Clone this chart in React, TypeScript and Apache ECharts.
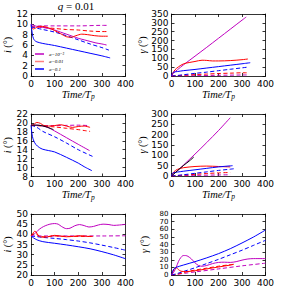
import React, { useEffect, useRef } from "react";
import * as echarts from "echarts";

// ---------- data ----------
const timeTicks = [0, 100, 200, 300, 400];
const legendNames = ["a=10⁻³", "a=0.01", "a=0.1"];

// Row 1 left: inclination i (deg)
const r1iMagSolid = [[0,10],[25,9.6],[50,9.4],[75,9.2],[100,8.9],[125,8.5],[150,8.1],[175,7.7],[200,7.3],[225,7.0],[250,6.7],[275,6.4],[300,6.2],[320,6.0]];
const r1iMagDash = [[0,9.6],[50,9.7],[100,9.7],[200,9.7],[300,9.8],[320,9.8]];
const r1iRedSolid = [[0,9.5],[10,9.1],[20,9.3],[35,9.6],[50,9.6],[75,9.3],[100,8.8],[125,8.2],[150,7.6],[170,7.5],[190,7.8],[215,8.1],[240,8.0],[270,7.8],[300,7.7],[325,7.7]];
const r1iRedDash = [[0,9.5],[50,9.4],[100,9.2],[150,9.0],[200,8.9],[250,8.7],[300,8.6],[325,8.6]];
const r1iBlueSolid = [[0,10],[3,9],[6,8],[10,7.3],[15,6.9],[25,6.6],[50,6.3],[75,6.1],[100,5.9],[150,5.4],[200,4.9],[250,4.4],[300,3.9],[335,3.5]];
const r1iBlueDash = [[0,9.5],[50,9.0],[100,8.5],[150,7.8],[200,7.0],[250,6.2],[300,5.5],[330,5.0]];

// Row 1 right: gamma (deg)
const r1gMagSolid = [[0,0],[10,18],[25,35],[50,62],[100,112],[150,162],[200,213],[250,264],[300,315],[318,333]];
const r1gMagDash = [[0,0],[100,2],[200,4],[320,6]];
const r1gRedSolid = [[0,0],[5,15],[15,35],[30,52],[50,68],[75,76],[100,82],[130,89],[150,88],[175,85],[200,85],[250,87],[300,92],[325,96]];
const r1gRedDash = [[0,0],[50,4],[100,8],[150,11],[200,14],[250,16],[300,18],[320,18]];
const r1gBlueSolid = [[0,0],[3,15],[10,22],[25,25],[50,30],[100,37],[150,45],[200,53],[250,61],[300,69],[335,75]];
const r1gBlueDash = [[0,0],[25,3],[50,7],[100,15],[150,22],[200,30],[250,38],[300,46],[330,51]];

// Row 2 left
const r2iBlack = [[0,19.5],[30,19.5],[60,19.2],[95,18.5]];
const r2iMagSolid = [[0,19.5],[25,19.5],[50,19.3],[75,18.9],[100,18.2],[150,16.7],[200,15.2],[248,13.8]];
const r2iMagDash = [[0,19.4],[100,19.4],[200,19.5],[248,19.4]];
const r2iRedSolid = [[0,19.3],[10,19.6],[25,20.1],[40,19.9],[55,19.4],[75,19.3],[100,19.4],[125,19.6],[150,19.3],[175,19.0],[200,19.2],[225,19.3],[250,19.0]];
const r2iRedDash = [[0,19.5],[50,19.3],[100,19.1],[150,18.8],[200,18.5],[225,18.3],[250,18.1]];
const r2iBlueSolid = [[0,19.5],[3,18],[6,17],[10,16.2],[20,15.2],[35,14.5],[50,14.1],[75,13.8],[100,13.5],[150,12.3],[200,11.0],[225,10.2],[258,9.3]];
const r2iBlueDash = [[0,19.5],[25,19.0],[50,18.1],[100,16.9],[150,15.5],[200,14.0],[265,12.4]];

// Row 2 right
const r2gBlack = [[0,0],[25,25],[50,50],[75,72],[95,92]];
const r2gMagSolid = [[0,0],[50,52],[100,106],[150,162],[200,220],[250,282]];
const r2gMagDash = [[0,0],[100,3],[200,5],[250,6]];
const r2gRedSolid = [[0,0],[10,20],[25,32],[50,40],[100,46],[150,48],[200,46],[250,44]];
const r2gRedDash = [[0,0],[50,4],[100,8],[150,12],[200,15],[250,17]];
const r2gBlueSolid = [[0,0],[3,12],[10,16],[25,19],[50,23],[100,30],[150,37],[200,44],[250,49],[260,50]];
const r2gBlueDash = [[0,0],[50,6],[100,13],[150,20],[200,27],[250,33],[265,35]];

// Row 3 left
const r3iMagSolid = [[0,39.2],[10,39.8],[20,40.8],[30,42],[45,43.3],[60,44.2],[80,45.0],[100,45.3],[115,45.0],[130,43.8],[150,42.8],[165,43.0],[185,44.2],[205,44.8],[225,44.3],[245,43.6],[265,43.9],[285,44.6],[305,45.0],[330,44.8],[350,44.4],[375,44.6],[400,44.9]];
const r3iMagDash = [[0,39.2],[100,39.2],[200,39.2],[300,39.2],[400,39.3]];
const r3iRedSolid = [[0,39.2],[8,40.5],[16,41.5],[22,41.2],[30,39.6],[40,38.8],[60,38.6],[80,39.0],[100,39.5],[120,39.2],[150,38.8],[180,39.0],[210,39.3],[240,39.0],[262,39.0]];
const r3iRedDash = [[0,39.2],[10,40.2],[20,40.6],[30,39.3],[45,38.8],[70,38.9],[100,39.2],[150,39.0],[200,39.0],[262,38.9]];
const r3iBlueSolid = [[0,39.2],[10,38.3],[25,37.3],[50,36.4],[100,35.6],[150,34.8],[200,33.9],[250,32.9],[300,31.5],[350,29.9],[400,28.0]];
const r3iBlueDash = [[0,39.2],[50,38.5],[100,38.0],[150,37.4],[200,36.7],[250,35.8],[300,34.7],[350,33.5],[400,32.2]];

// Row 3 right
const r3gMagSolid = [[0,0],[10,4],[20,10],[30,18],[40,23],[50,25.5],[60,25.5],[70,24.5],[85,21],[100,16],[115,12.5],[130,11.5],[150,12.5],[175,15],[200,16.5],[225,16.8],[250,16.5],[275,17.5],[300,19.5],[325,21],[350,21.5],[400,21.5]];
const r3gMagDash = [[0,0],[100,4],[200,8],[300,12],[400,15.5]];
const r3gRedSolid = [[0,0],[10,7],[20,9.5],[30,7],[40,5],[60,4.5],[80,4.8],[100,5.5],[150,8],[200,10.5],[250,13],[265,14]];
const r3gRedDash = [[0,0],[25,1],[50,3],[75,5],[100,6.5],[150,9],[200,11.5],[250,13.5],[265,14]];
const r3gBlueSolid = [[0,0],[5,5],[10,8],[20,10],[50,13],[100,17.5],[150,22.5],[200,28],[250,34.5],[300,42],[350,50],[400,59]];
const r3gBlueDash = [[0,0],[25,2],[50,4.5],[100,9.5],[150,15],[200,20.5],[250,26.5],[300,32.5],[350,39],[400,45.5]];

const yRanges = [
  [0, 12, 2], [0, 350, 50],
  [8, 22, 2], [0, 300, 50],
  [20, 50, 5], [0, 80, 10],
];

// ---------- styles ----------
const MAG = "#bf00bf";
const RED = "#ff0000";
const BLUE = "#0000ff";
const BLACK = "#000000";

const grids = [
  { left: 31, top: 14, width: 94.5, height: 62 },
  { left: 171.5, top: 14, width: 94, height: 62 },
  { left: 31, top: 114, width: 94.5, height: 62.5 },
  { left: 171.5, top: 114, width: 94, height: 62 },
  { left: 31, top: 214, width: 94.5, height: 64 },
  { left: 171.5, top: 214, width: 94, height: 63.5 },
];
const yLabelSize = [9, 9, 9, 9, 9, 7];
const yLabelLine = [8, 8, 8, 8, 8, 7];

type S = { data: number[][]; color: string; dash: boolean; name?: string };
const panels: S[][] = [
  [
    { data: r1iMagDash, color: MAG, dash: true },
    { data: r1iRedDash, color: RED, dash: true },
    { data: r1iBlueDash, color: BLUE, dash: true },
    { data: r1iMagSolid, color: MAG, dash: false, name: legendNames[0] },
    { data: r1iRedSolid, color: RED, dash: false, name: legendNames[1] },
    { data: r1iBlueSolid, color: BLUE, dash: false, name: legendNames[2] },
  ],
  [
    { data: r1gMagDash, color: MAG, dash: true },
    { data: r1gRedDash, color: RED, dash: true },
    { data: r1gBlueDash, color: BLUE, dash: true },
    { data: r1gMagSolid, color: MAG, dash: false },
    { data: r1gRedSolid, color: RED, dash: false },
    { data: r1gBlueSolid, color: BLUE, dash: false },
  ],
  [
    { data: r2iMagDash, color: MAG, dash: true },
    { data: r2iRedDash, color: RED, dash: true },
    { data: r2iBlueDash, color: BLUE, dash: true },
    { data: r2iMagSolid, color: MAG, dash: false },
    { data: r2iRedSolid, color: RED, dash: false },
    { data: r2iBlueSolid, color: BLUE, dash: false },
    { data: r2iBlack, color: BLACK, dash: false },
  ],
  [
    { data: r2gMagDash, color: MAG, dash: true },
    { data: r2gRedDash, color: RED, dash: true },
    { data: r2gBlueDash, color: BLUE, dash: true },
    { data: r2gMagSolid, color: MAG, dash: false },
    { data: r2gRedSolid, color: RED, dash: false },
    { data: r2gBlueSolid, color: BLUE, dash: false },
    { data: r2gBlack, color: BLACK, dash: false },
  ],
  [
    { data: r3iMagDash, color: MAG, dash: true },
    { data: r3iBlueDash, color: BLUE, dash: true },
    { data: r3iMagSolid, color: MAG, dash: false },
    { data: r3iBlueSolid, color: BLUE, dash: false },
    { data: r3iRedDash, color: RED, dash: true },
    { data: r3iRedSolid, color: RED, dash: false },
  ],
  [
    { data: r3gMagDash, color: MAG, dash: true },
    { data: r3gRedDash, color: RED, dash: true },
    { data: r3gBlueDash, color: BLUE, dash: true },
    { data: r3gMagSolid, color: MAG, dash: false },
    { data: r3gRedSolid, color: RED, dash: false },
    { data: r3gBlueSolid, color: BLUE, dash: false },
  ],
];

const serif = "'Liberation Serif', 'DejaVu Serif', serif";
const sans = "'DejaVu Sans', sans-serif";

function buildOption() {
  const xAxis: any[] = [];
  const yAxis: any[] = [];
  const series: any[] = [];
  const frame = { show: true, onZero: false, lineStyle: { color: "#000", width: 0.8 } };
  const tick = { show: true, inside: true, length: 3, lineStyle: { color: "#000", width: 0.8 } };
  grids.forEach((g, i) => {
    const [ymin, ymax, yint] = yRanges[i];
    const isLeft = i % 2 === 0;
    const showXName = i < 4;
    xAxis.push({
      type: "value", gridIndex: i, position: "bottom",
      min: timeTicks[0], max: timeTicks[timeTicks.length - 1], interval: timeTicks[1] - timeTicks[0],
      axisLine: frame, axisTick: tick, splitLine: { show: false },
      axisLabel: { show: true, fontSize: 9, color: "#000", margin: 3, fontFamily: sans, showMaxLabel: true, showMinLabel: true },
      name: showXName ? "{t|Time/T}{s|p}" : "",
      nameLocation: "middle", nameGap: 11,
      nameTextStyle: {
        rich: {
          t: { fontFamily: serif, fontStyle: "italic", fontSize: 10.5, color: "#000" },
          s: { fontFamily: serif, fontStyle: "italic", fontSize: 7.5, color: "#000", verticalAlign: "bottom", padding: [5, 0, 0, 0] },
        },
      },
    });
    xAxis.push({
      type: "value", gridIndex: i, position: "top",
      min: timeTicks[0], max: timeTicks[timeTicks.length - 1], interval: timeTicks[1] - timeTicks[0],
      axisLine: frame, axisTick: tick, splitLine: { show: false }, axisLabel: { show: false },
    });
    yAxis.push({
      type: "value", gridIndex: i, position: "left",
      min: ymin, max: ymax, interval: yint,
      axisLine: frame, axisTick: tick, splitLine: { show: false },
      axisLabel: {
        show: true, fontSize: yLabelSize[i], lineHeight: yLabelLine[i], color: "#000", margin: 3,
        fontFamily: sans, showMaxLabel: true, showMinLabel: true, hideOverlap: false,
      },
      name: isLeft ? "{v|i} (°)" : "{v|γ} (°)",
      nameLocation: "middle", nameGap: isLeft ? 18 : 22,
      nameTextStyle: {
        fontFamily: serif, fontSize: 10, color: "#000",
        rich: { v: { fontFamily: serif, fontStyle: "italic", fontSize: 10, color: "#000" } },
      },
    });
    yAxis.push({
      type: "value", gridIndex: i, position: "right",
      min: ymin, max: ymax, interval: yint,
      axisLine: frame, axisTick: tick, splitLine: { show: false }, axisLabel: { show: false },
    });
    panels[i].forEach((s) => {
      series.push({
        type: "line", name: s.name, xAxisIndex: 2 * i, yAxisIndex: 2 * i,
        data: s.data, showSymbol: false, symbol: "none", smooth: 0.3,
        lineStyle: { color: s.color, width: 1, type: s.dash ? [4, 2.5] : "solid" },
        itemStyle: { color: s.color },
      });
    });
  });
  return {
    animation: false,
    backgroundColor: "#ffffff",
    grid: grids.map((g) => ({ ...g, containLabel: false })),
    xAxis, yAxis, series,
    legend: {
      show: true, orient: "vertical", left: 35, top: 51,
      itemWidth: 9, itemHeight: 1.5, itemGap: 1.5, icon: "rect", padding: 0,
      selectedMode: false,
      textStyle: { fontSize: 5, fontFamily: serif, fontStyle: "italic", color: "#000", lineHeight: 6 },
      data: [
        { name: legendNames[0], itemStyle: { color: MAG } },
        { name: legendNames[1], itemStyle: { color: "#ff8080" } },
        { name: legendNames[2], itemStyle: { color: BLUE } },
      ],
    },
    graphic: [
      {
        type: "text", x: 76, y: 6,
        style: {
          text: "{q|q} = 0.01", align: "center", verticalAlign: "middle",
          fontFamily: serif, fontSize: 11, fill: "#000",
          rich: { q: { fontFamily: serif, fontStyle: "italic", fontSize: 11 } },
        },
      },
    ],
  };
}

export default function App() {
  const ref = useRef<HTMLDivElement>(null);
  useEffect(() => {
    if (!ref.current) return;
    const chart = echarts.init(ref.current, null, { renderer: "svg" });
    chart.setOption(buildOption() as any);
    return () => chart.dispose();
  }, []);
  return <div ref={ref} style={{ width: 299, height: 287, position: "absolute", left: 0, top: 0 }} />;
}
